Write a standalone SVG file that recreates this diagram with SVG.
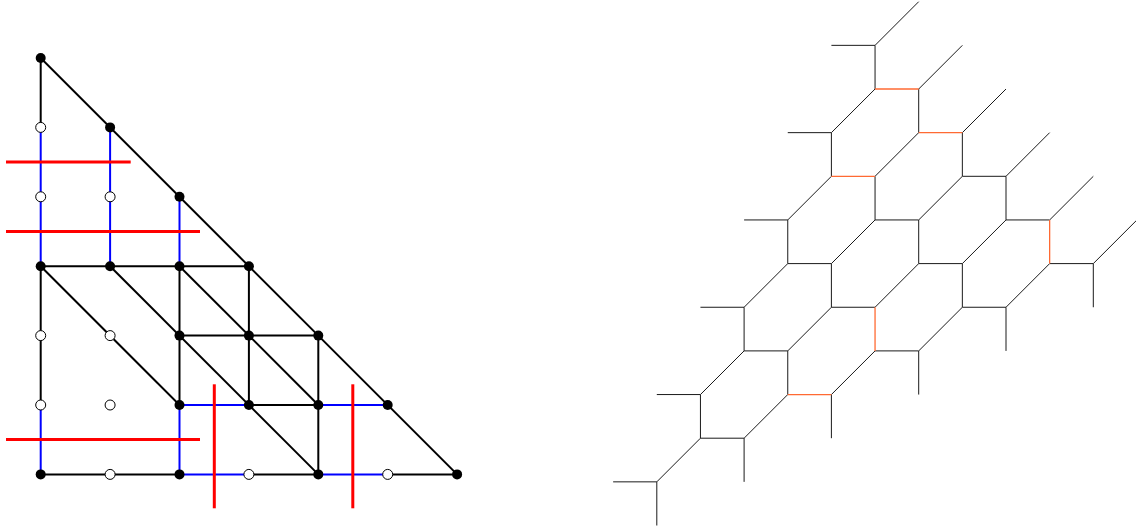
<svg xmlns="http://www.w3.org/2000/svg" width="1136" height="531" viewBox="0 0 1136 531">
<style>
.k{stroke:#000;stroke-width:2;fill:none}
.b{stroke:#0000ff;stroke-width:2;fill:none}
.r{stroke:#ff0000;stroke-width:3;fill:none}
.t{stroke:#1a1a1a;stroke-width:1;fill:none}
.o{stroke:#ff6a33;stroke-width:1.3;fill:none}
.f{fill:#000}
.w{fill:#fff;stroke:#000;stroke-width:1}
</style>
<rect width="1136" height="531" fill="#fff"/>
<g id="connectors">
<g id="left-black" class="k">
<line x1="40.7" y1="58" x2="40.7" y2="127.4"/>
<line x1="40.7" y1="266.2" x2="40.7" y2="405"/>
<line x1="40.7" y1="58" x2="457.1" y2="474.4"/>
<line x1="40.7" y1="266.2" x2="248.9" y2="266.2"/>
<line x1="40.7" y1="266.2" x2="179.5" y2="405"/>
<line x1="110.1" y1="266.2" x2="318.3" y2="474.4"/>
<line x1="179.5" y1="266.2" x2="318.3" y2="405"/>
<line x1="179.5" y1="266.2" x2="179.5" y2="405"/>
<line x1="248.9" y1="266.2" x2="248.9" y2="405"/>
<line x1="318.3" y1="335.6" x2="318.3" y2="474.4"/>
<line x1="179.5" y1="335.6" x2="318.3" y2="335.6"/>
<line x1="248.9" y1="405" x2="318.3" y2="405"/>
<line x1="40.7" y1="474.4" x2="179.5" y2="474.4"/>
<line x1="248.9" y1="474.4" x2="318.3" y2="474.4"/>
<line x1="387.7" y1="474.4" x2="457.1" y2="474.4"/>
</g>
<g id="left-blue" class="b">
<line x1="40.7" y1="127.4" x2="40.7" y2="266.2"/>
<line x1="40.7" y1="405" x2="40.7" y2="474.4"/>
<line x1="110.1" y1="127.4" x2="110.1" y2="266.2"/>
<line x1="179.5" y1="196.8" x2="179.5" y2="266.2"/>
<line x1="179.5" y1="405" x2="179.5" y2="474.4"/>
<line x1="179.5" y1="405" x2="248.9" y2="405"/>
<line x1="318.3" y1="405" x2="387.7" y2="405"/>
<line x1="179.5" y1="474.4" x2="248.9" y2="474.4"/>
<line x1="318.3" y1="474.4" x2="387.7" y2="474.4"/>
</g>
<g id="left-red" class="r">
<line x1="6" y1="162" x2="130.7" y2="162"/>
<line x1="6" y1="231.4" x2="200" y2="231.4"/>
<line x1="6" y1="439.5" x2="200" y2="439.5"/>
<line x1="214.3" y1="384.3" x2="214.3" y2="508.3"/>
<line x1="352.8" y1="384.3" x2="352.8" y2="508.3"/>
</g>
<g id="right-black" class="t">
<line x1="831.4" y1="45.35" x2="875.05" y2="45.35"/>
<line x1="875.05" y1="45.35" x2="918.7" y2="1.7"/>
<line x1="875.05" y1="45.35" x2="875.05" y2="89"/>
<line x1="875.05" y1="89" x2="831.4" y2="132.65"/>
<line x1="918.7" y1="89" x2="962.35" y2="45.35"/>
<line x1="918.7" y1="89" x2="918.7" y2="132.65"/>
<line x1="918.7" y1="132.65" x2="875.05" y2="176.3"/>
<line x1="962.35" y1="132.65" x2="1006" y2="89"/>
<line x1="962.35" y1="132.65" x2="962.35" y2="176.3"/>
<line x1="962.35" y1="176.3" x2="1006" y2="176.3"/>
<line x1="962.35" y1="176.3" x2="918.7" y2="219.95"/>
<line x1="1006" y1="176.3" x2="1049.65" y2="132.65"/>
<line x1="1006" y1="176.3" x2="1006" y2="219.95"/>
<line x1="1006" y1="219.95" x2="1049.65" y2="219.95"/>
<line x1="1006" y1="219.95" x2="962.35" y2="263.6"/>
<line x1="1049.65" y1="219.95" x2="1093.3" y2="176.3"/>
<line x1="1049.65" y1="263.6" x2="1093.3" y2="263.6"/>
<line x1="1049.65" y1="263.6" x2="1006" y2="307.25"/>
<line x1="1093.3" y1="263.6" x2="1136.95" y2="219.95"/>
<line x1="1093.3" y1="263.6" x2="1093.3" y2="307.25"/>
<line x1="787.75" y1="132.65" x2="831.4" y2="132.65"/>
<line x1="831.4" y1="132.65" x2="831.4" y2="176.3"/>
<line x1="831.4" y1="176.3" x2="787.75" y2="219.95"/>
<line x1="875.05" y1="176.3" x2="875.05" y2="219.95"/>
<line x1="875.05" y1="219.95" x2="918.7" y2="219.95"/>
<line x1="875.05" y1="219.95" x2="831.4" y2="263.6"/>
<line x1="918.7" y1="219.95" x2="918.7" y2="263.6"/>
<line x1="918.7" y1="263.6" x2="962.35" y2="263.6"/>
<line x1="918.7" y1="263.6" x2="875.05" y2="307.25"/>
<line x1="962.35" y1="263.6" x2="962.35" y2="307.25"/>
<line x1="962.35" y1="307.25" x2="1006" y2="307.25"/>
<line x1="962.35" y1="307.25" x2="918.7" y2="350.9"/>
<line x1="1006" y1="307.25" x2="1006" y2="350.9"/>
<line x1="744.1" y1="219.95" x2="787.75" y2="219.95"/>
<line x1="787.75" y1="219.95" x2="787.75" y2="263.6"/>
<line x1="787.75" y1="263.6" x2="831.4" y2="263.6"/>
<line x1="787.75" y1="263.6" x2="744.1" y2="307.25"/>
<line x1="831.4" y1="263.6" x2="831.4" y2="307.25"/>
<line x1="831.4" y1="307.25" x2="875.05" y2="307.25"/>
<line x1="831.4" y1="307.25" x2="787.75" y2="350.9"/>
<line x1="875.05" y1="350.9" x2="918.7" y2="350.9"/>
<line x1="875.05" y1="350.9" x2="831.4" y2="394.55"/>
<line x1="918.7" y1="350.9" x2="918.7" y2="394.55"/>
<line x1="700.45" y1="307.25" x2="744.1" y2="307.25"/>
<line x1="744.1" y1="307.25" x2="744.1" y2="350.9"/>
<line x1="744.1" y1="350.9" x2="787.75" y2="350.9"/>
<line x1="744.1" y1="350.9" x2="700.45" y2="394.55"/>
<line x1="787.75" y1="350.9" x2="787.75" y2="394.55"/>
<line x1="787.75" y1="394.55" x2="744.1" y2="438.2"/>
<line x1="831.4" y1="394.55" x2="831.4" y2="438.2"/>
<line x1="656.8" y1="394.55" x2="700.45" y2="394.55"/>
<line x1="700.45" y1="394.55" x2="700.45" y2="438.2"/>
<line x1="700.45" y1="438.2" x2="744.1" y2="438.2"/>
<line x1="700.45" y1="438.2" x2="656.8" y2="481.85"/>
<line x1="744.1" y1="438.2" x2="744.1" y2="481.85"/>
<line x1="613.15" y1="481.85" x2="656.8" y2="481.85"/>
<line x1="656.8" y1="481.85" x2="656.8" y2="525.5"/>
</g>
<g id="right-orange" class="o">
<line x1="875.05" y1="89" x2="918.7" y2="89"/>
<line x1="918.7" y1="132.65" x2="962.35" y2="132.65"/>
<line x1="831.4" y1="176.3" x2="875.05" y2="176.3"/>
<line x1="1049.65" y1="219.95" x2="1049.65" y2="263.6"/>
<line x1="875.05" y1="307.25" x2="875.05" y2="350.9"/>
<line x1="787.75" y1="394.55" x2="831.4" y2="394.55"/>
</g>
</g>
<g id="p00"><circle class="f" cx="40.7" cy="58" r="5"/></g>
<g id="p01"><circle class="w" cx="40.7" cy="127.4" r="5"/></g>
<g id="p11"><circle class="f" cx="110.1" cy="127.4" r="5"/></g>
<g id="p02"><circle class="w" cx="40.7" cy="196.8" r="5"/></g>
<g id="p12"><circle class="w" cx="110.1" cy="196.8" r="5"/></g>
<g id="p22"><circle class="f" cx="179.5" cy="196.8" r="5"/></g>
<g id="p03"><circle class="f" cx="40.7" cy="266.2" r="5"/></g>
<g id="p13"><circle class="f" cx="110.1" cy="266.2" r="5"/></g>
<g id="p23"><circle class="f" cx="179.5" cy="266.2" r="5"/></g>
<g id="p33"><circle class="f" cx="248.9" cy="266.2" r="5"/></g>
<g id="p04"><circle class="w" cx="40.7" cy="335.6" r="5"/></g>
<g id="p14"><circle class="w" cx="110.1" cy="335.6" r="5"/></g>
<g id="p24"><circle class="f" cx="179.5" cy="335.6" r="5"/></g>
<g id="p34"><circle class="f" cx="248.9" cy="335.6" r="5"/></g>
<g id="p44"><circle class="f" cx="318.3" cy="335.6" r="5"/></g>
<g id="p05"><circle class="w" cx="40.7" cy="405" r="5"/></g>
<g id="p15"><circle class="w" cx="110.1" cy="405" r="5"/></g>
<g id="p25"><circle class="f" cx="179.5" cy="405" r="5"/></g>
<g id="p35"><circle class="f" cx="248.9" cy="405" r="5"/></g>
<g id="p45"><circle class="f" cx="318.3" cy="405" r="5"/></g>
<g id="p55"><circle class="f" cx="387.7" cy="405" r="5"/></g>
<g id="p06"><circle class="f" cx="40.7" cy="474.4" r="5"/></g>
<g id="p16"><circle class="w" cx="110.1" cy="474.4" r="5"/></g>
<g id="p26"><circle class="f" cx="179.5" cy="474.4" r="5"/></g>
<g id="p36"><circle class="w" cx="248.9" cy="474.4" r="5"/></g>
<g id="p46"><circle class="f" cx="318.3" cy="474.4" r="5"/></g>
<g id="p56"><circle class="w" cx="387.7" cy="474.4" r="5"/></g>
<g id="p66"><circle class="f" cx="457.1" cy="474.4" r="5"/></g>
</svg>
